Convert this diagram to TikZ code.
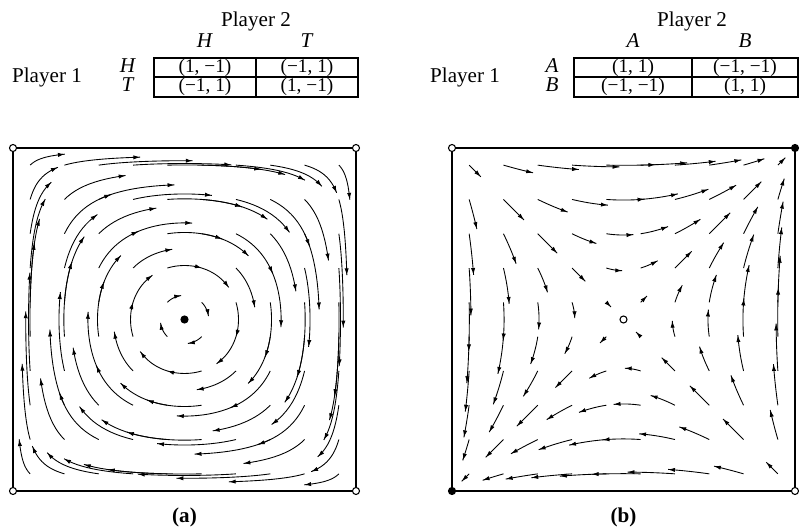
\documentclass[tikz,border=0pt]{standalone}
\usepackage{fontspec}
\setmainfont{Liberation Serif}
\usetikzlibrary{positioning, arrows.meta, decorations.markings}

% one trajectory of the replicator flow: origin, start point, time, sign of dy
\newcommand\flowpath[6]{%
  \xdef\curx{#3}\xdef\cury{#4}%
  \pgfmathsetmacro\ptx{#1+343*\curx}\pgfmathsetmacro\pty{#2+343*\cury}%
  \xdef\pts{(\ptx,\pty)}%
  \foreach \k in {1,...,12}{%
    \pgfmathsetmacro\dtime{#5/12}%
    \pgfmathsetmacro\ux{2*\curx*(1-\curx)*(2*\cury-1)}%
    \pgfmathsetmacro\uy{#6*2*\cury*(1-\cury)*(2*\curx-1)}%
    \pgfmathsetmacro\midx{\curx+0.5*\dtime*\ux}%
    \pgfmathsetmacro\midy{\cury+0.5*\dtime*\uy}%
    \pgfmathsetmacro\vx{2*\midx*(1-\midx)*(2*\midy-1)}%
    \pgfmathsetmacro\vy{#6*2*\midy*(1-\midy)*(2*\midx-1)}%
    \pgfmathsetmacro\newx{\curx+\dtime*\vx}%
    \pgfmathsetmacro\newy{\cury+\dtime*\vy}%
    \xdef\curx{\newx}\xdef\cury{\newy}%
    \pgfmathsetmacro\ptx{#1+343*\curx}\pgfmathsetmacro\pty{#2+343*\cury}%
    \xdef\pts{\pts (\ptx,\pty)}%
  }%
  \edef\drawflow{\noexpand\draw[flow] plot coordinates {\pts};}\drawflow
}

\begin{document}
\begin{tikzpicture}[x=0.02cm, y=0.02cm, font=\fontsize{12}{14}\selectfont,
  tabline/.style={line width=1.1pt},
  boxline/.style={line width=0.8pt},
  lbl/.style={anchor=base, inner sep=0pt},
  cell/.style={inner sep=0pt, font=\fontsize{11}{13}\selectfont},
  flow/.style={line width=0.5pt, postaction={decorate},
    decoration={markings, mark=at position 1 with {\arrow{Latex[length=3.9pt,width=2.4pt]}}}},
  rest/.style={circle, draw, line width=0.6pt, fill=white, inner sep=0pt, minimum size=4pt},
  sink/.style={rest, fill=black}]
  \useasboundingbox (0,0) rectangle (801,528);

  % Matching pennies table
  \node[lbl] (pen-p2) at (256,501) {Player 2};
  \node[lbl] (pen-p1) at (47,445) {Player 1};
  \node[lbl] (pen-cH) at (205,480) {\textit{H}};
  \node[lbl] (pen-cT) at (307,480) {\textit{T}};
  \node[lbl] (pen-rH) at (128,455) {\textit{H}};
  \node[lbl] (pen-rT) at (128,436) {\textit{T}};
  \draw[tabline] (154,431) rectangle (358,470);
  \draw[tabline] (154,451) -- (358,451);
  \draw[tabline] (256,431) -- (256,470);
  \node[cell] (pen-11) at (205,460.5) {(1,\hspace{0.25em}−1)};
  \node[cell] (pen-12) at (307,460.5) {(−1,\hspace{0.25em}1)};
  \node[cell] (pen-21) at (205,441) {(−1,\hspace{0.25em}1)};
  \node[cell] (pen-22) at (307,441) {(1,\hspace{0.25em}−1)};

  % Coordination table
  \node[lbl] (coo-p2) at (692,501) {Player 2};
  \node[lbl] (coo-p1) at (465,445) {Player 1};
  \node[lbl] (coo-cA) at (633,480) {\textit{A}};
  \node[lbl] (coo-cB) at (745,480) {\textit{B}};
  \node[lbl] (coo-rA) at (552,455) {\textit{A}};
  \node[lbl] (coo-rB) at (552,436) {\textit{B}};
  \draw[tabline] (574,431) rectangle (798,470);
  \draw[tabline] (574,451) -- (798,451);
  \draw[tabline] (692,431) -- (692,470);
  \node[cell] (coo-11) at (633,460.5) {(1,\hspace{0.25em}1)};
  \node[cell] (coo-12) at (745,460.5) {(−1,\hspace{0.25em}−1)};
  \node[cell] (coo-21) at (633,441) {(−1,\hspace{0.25em}−1)};
  \node[cell] (coo-22) at (745,441) {(1,\hspace{0.25em}1)};

  % Phase portraits
  \draw[boxline] (13,37) rectangle (356,380);
  \draw[boxline] (452,37) rectangle (795,380);
  \foreach \i in {0,...,9}{
    \foreach \j in {0,...,9}{
      \pgfmathsetmacro\sx{0.05+0.1*\i}
      \pgfmathsetmacro\sy{0.05+0.1*\j}
      \flowpath{13}{37}{\sx}{\sy}{0.65}{-1}
      \flowpath{452}{37}{\sx}{\sy}{0.32}{1}
    }
  }

  % Rest points
  \node[rest] (a-nw) at (13,380) {};
  \node[rest] (a-ne) at (356,380) {};
  \node[rest] (a-sw) at (13,37) {};
  \node[rest] (a-se) at (356,37) {};
  \node[sink] (a-mid) at (184.5,208.5) {};
  \node[rest] (b-nw) at (452,380) {};
  \node[sink] (b-ne) at (795,380) {};
  \node[sink] (b-sw) at (452,37) {};
  \node[rest] (b-se) at (795,37) {};
  \node[rest] (b-mid) at (623.5,208.5) {};

  \node[font=\fontsize{12}{14}\selectfont\bfseries] (cap-a) at (184.5,11) {(a)};
  \node[font=\fontsize{12}{14}\selectfont\bfseries] (cap-b) at (623.5,11) {(b)};
\end{tikzpicture}
\end{document}
